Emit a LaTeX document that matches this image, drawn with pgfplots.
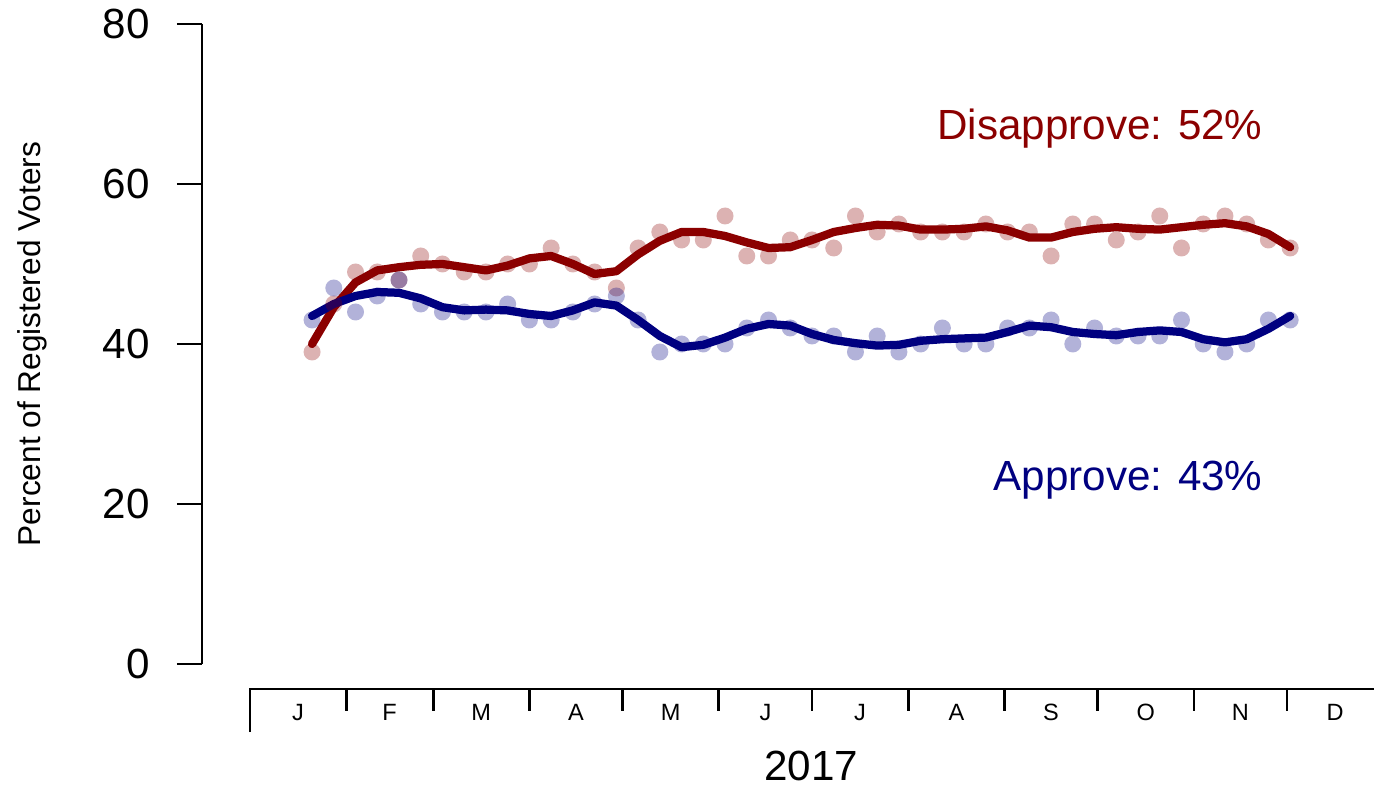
\documentclass[border=0pt]{standalone}
\usepackage{fontspec}
\setmainfont{Liberation Sans}
\usepackage{pgfplots}
\pgfplotsset{compat=1.18}
\usepackage{pgfplotstable}

\definecolor{dis}{RGB}{139,0,0}
\definecolor{app}{RGB}{0,0,128}
\tikzset{monthlbl/.style={anchor=base, inner sep=0pt, font=\fontsize{13.4}{16}\selectfont}}

% day of year (0 = 1 Jan 2017), weekly poll, smoothed trend
\pgfplotstableread{
d poll trend
20 39 40.0
27 45 44.6
34 49 47.7
41 49 49.2
48 48 49.6
55 51 49.9
62 50 50.0
69 49 49.6
76 49 49.2
83 50 49.8
90 50 50.7
97 52 51.0
104 50 50.0
111 49 48.75
118 47 49.1
125 52 51.2
132 54 52.9
139 53 54.0
146 53 54.0
153 56 53.5
160 51 52.7
167 51 52.0
174 53 52.1
181 53 53.0
188 52 54.0
195 56 54.5
202 54 54.9
209 55 54.8
216 54 54.3
223 54 54.3
230 54 54.4
237 55 54.7
244 54 54.2
251 54 53.3
258 51 53.3
265 55 54.0
272 55 54.4
279 53 54.6
286 54 54.4
293 56 54.3
300 52 54.6
307 55 54.9
314 56 55.1
321 55 54.7
328 53 53.75
335 52 52.1
}\disapprove

\pgfplotstableread{
d poll trend
20 43 43.5
27 47 45.0
34 44 46.0
41 46 46.5
48 48 46.4
55 45 45.7
62 44 44.6
69 44 44.2
76 44 44.3
83 45 44.2
90 43 43.75
97 43 43.5
104 44 44.2
111 45 45.2
118 46 44.8
125 43 43.0
132 39 41.0
139 40 39.6
146 40 39.9
153 40 40.8
160 42 41.9
167 43 42.5
174 42 42.3
181 41 41.25
188 41 40.5
195 39 40.1
202 41 39.8
209 39 39.9
216 40 40.4
223 42 40.6
230 40 40.7
237 40 40.8
244 42 41.5
251 42 42.3
258 43 42.1
265 40 41.5
272 42 41.25
279 41 41.1
286 41 41.5
293 41 41.7
300 43 41.5
307 40 40.6
314 39 40.2
321 40 40.6
328 43 41.9
335 43 43.5
}\approve

\begin{document}
\begin{tikzpicture}
\begin{axis}[
  hide axis, clip=false,
  x=0.621mm, y=1.6mm,
  xmin=-15.5, xmax=362, ymin=0, ymax=80,
]
% poll points
\addplot[only marks, mark=*, mark size=1.7mm, fill=dis,
  mark options={fill opacity=0.3, draw opacity=0}] table[x=d, y=poll] {\disapprove};
\addplot[only marks, mark=*, mark size=1.7mm, fill=app,
  mark options={fill opacity=0.3, draw opacity=0}] table[x=d, y=poll] {\approve};
% trend lines
\addplot[dis, line width=1.65mm, line cap=round, line join=round, no marks] table[x=d, y=trend] {\disapprove};
\addplot[app, line width=1.65mm, line cap=round, line join=round, no marks] table[x=d, y=trend] {\approve};

% y axis
\draw[line width=0.54mm] (axis cs:-15.46,0) -- (axis cs:-15.46,80);
\pgfplotsinvokeforeach{0,20,40,60,80}{
  \draw[line width=0.54mm] (axis cs:-23.5,#1) -- (axis cs:-15.46,#1);
  \node[anchor=east, inner sep=0pt, font=\fontsize{24}{28}\selectfont] at (axis cs:-32.2,#1) {#1};
}
\node[rotate=90, anchor=base, inner sep=0pt, font=\fontsize{18}{22}\selectfont]
  at (axis cs:-67.6,40) {Percent of Registered Voters};

% x axis (months)
\draw[line width=0.54mm] (axis cs:0,-8.5) -- (axis cs:0,-3.125) -- (axis cs:362,-3.125);
\pgfplotsinvokeforeach{31,59,90,120,151,181,212,243,273,304,334}{
  \draw[line width=0.54mm] (axis cs:#1,-3.125) -- (axis cs:#1,-5.875);
}
\node[monthlbl] at (axis cs:15.5,-7.1) {J};
\node[monthlbl] at (axis cs:45,-7.1) {F};
\node[monthlbl] at (axis cs:74.5,-7.1) {M};
\node[monthlbl] at (axis cs:105,-7.1) {A};
\node[monthlbl] at (axis cs:135.5,-7.1) {M};
\node[monthlbl] at (axis cs:166,-7.1) {J};
\node[monthlbl] at (axis cs:196.5,-7.1) {J};
\node[monthlbl] at (axis cs:227.5,-7.1) {A};
\node[monthlbl] at (axis cs:258,-7.1) {S};
\node[monthlbl] at (axis cs:288.5,-7.1) {O};
\node[monthlbl] at (axis cs:319,-7.1) {N};
\node[monthlbl] at (axis cs:349.5,-7.1) {D};
\node[anchor=base, inner sep=0pt, font=\fontsize{24}{28}\selectfont] at (axis cs:180.8,-14.55) {2017};

% series labels
\node[anchor=base east, inner sep=0pt, text=dis, font=\fontsize{24}{28}\selectfont]
  at (axis cs:326.2,65.6) {Disapprove: 52\%};
\node[anchor=base east, inner sep=0pt, text=app, font=\fontsize{24}{28}\selectfont]
  at (axis cs:326.2,21.75) {Approve: 43\%};

\coordinate (bl) at (axis cs:-80.5,-15.3);
\coordinate (tr) at (axis cs:362,83);
\end{axis}
\pgfresetboundingbox
\path (bl) rectangle (tr);
\end{tikzpicture}
\end{document}
